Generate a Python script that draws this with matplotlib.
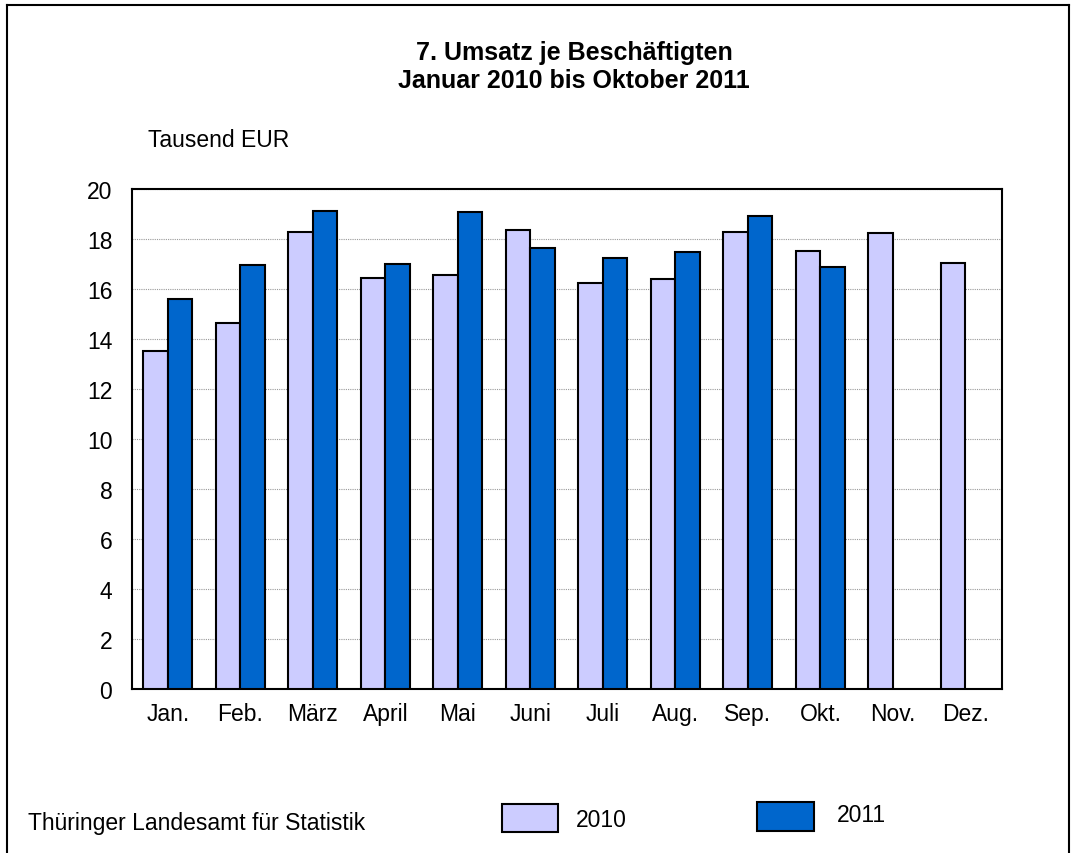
import matplotlib
matplotlib.use("Agg")
import matplotlib.pyplot as plt
import numpy as np
from matplotlib.patches import Rectangle
from matplotlib.lines import Line2D

plt.rcParams['font.family'] = ['Liberation Sans', 'DejaVu Sans']

months = ["Jan.", "Feb.", "März", "April", "Mai", "Juni", "Juli", "Aug.", "Sep.", "Okt.", "Nov.", "Dez."]
v2010 = [13.54, 14.64, 18.28, 16.44, 16.58, 18.38, 16.25, 16.41, 18.28, 17.54, 18.26, 17.04]
v2011 = [15.61, 16.97, 19.13, 17.01, 19.10, 17.64, 17.24, 17.48, 18.94, 16.88, np.nan, np.nan]
yticks = [0, 2, 4, 6, 8, 10, 12, 14, 16, 18, 20]

c2010 = "#CCCCFF"
c2011 = "#0066CC"

W, H = 1071, 854
fig = plt.figure(figsize=(W / 100, H / 100), dpi=100)

def fx(px):
    return px / W

def fy(py):
    return 1 - py / H

# outer frame
fig.add_artist(Line2D([fx(7), fx(7)], [0, fy(6)], color="black", lw=1.5))
fig.add_artist(Line2D([fx(7), fx(1069)], [fy(6), fy(6)], color="black", lw=1.5))
fig.add_artist(Line2D([fx(1069), fx(1069)], [0, fy(6)], color="black", lw=1.5))

left, right, top, bottom = 131.7, 1001.7, 190.3, 690.3
ax = fig.add_axes([fx(left), fy(bottom), (right - left) / W, (bottom - top) / H])

x = np.arange(len(months))
bw = 0.338
ax.bar(x - bw / 2, v2010, width=bw, color=c2010, edgecolor="black", linewidth=1.5, zorder=3)
ax.bar(x + bw / 2, v2011, width=bw, color=c2011, edgecolor="black", linewidth=1.5, zorder=3)

ax.set_xlim(-0.5, len(months) - 0.5)
ax.set_ylim(0, 20)
ax.set_yticks(yticks)
ax.set_yticklabels([str(t) for t in yticks], fontsize=16.5)
ax.set_xticks(x)
ax.set_xticklabels(months, fontsize=16.5)
ax.tick_params(axis="y", length=0, pad=14)
ax.tick_params(axis="x", length=0, pad=9)
ax.grid(axis="y", color="#999999", linestyle=(0, (1, 1)), linewidth=0.8, zorder=0)
for s in ax.spines.values():
    s.set_linewidth(1.5)
    s.set_color("black")

fig.text(fx(574), fy(53), "7. Umsatz je Beschäftigten", ha="center", va="center",
         fontsize=18, fontweight="bold")
fig.text(fx(574), fy(81), "Januar 2010 bis Oktober 2011", ha="center", va="center",
         fontsize=18, fontweight="bold")
fig.text(fx(148), fy(140.5), "Tausend EUR", ha="left", va="center", fontsize=16.5)

fig.text(fx(28), fy(824), "Thüringer Landesamt für Statistik", ha="left", va="center", fontsize=16.5)

fig.add_artist(Rectangle((fx(502), fy(833)), 56 / W, 28 / H, facecolor=c2010,
                         edgecolor="black", linewidth=1.5, transform=fig.transFigure))
fig.text(fx(576), fy(821), "2010", ha="left", va="center", fontsize=16.5)
fig.add_artist(Rectangle((fx(757), fy(832)), 57 / W, 29 / H, facecolor=c2011,
                         edgecolor="black", linewidth=1.5, transform=fig.transFigure))
fig.text(fx(837), fy(815.5), "2011", ha="left", va="center", fontsize=16.5)

fig.savefig("out.png", dpi=100)
